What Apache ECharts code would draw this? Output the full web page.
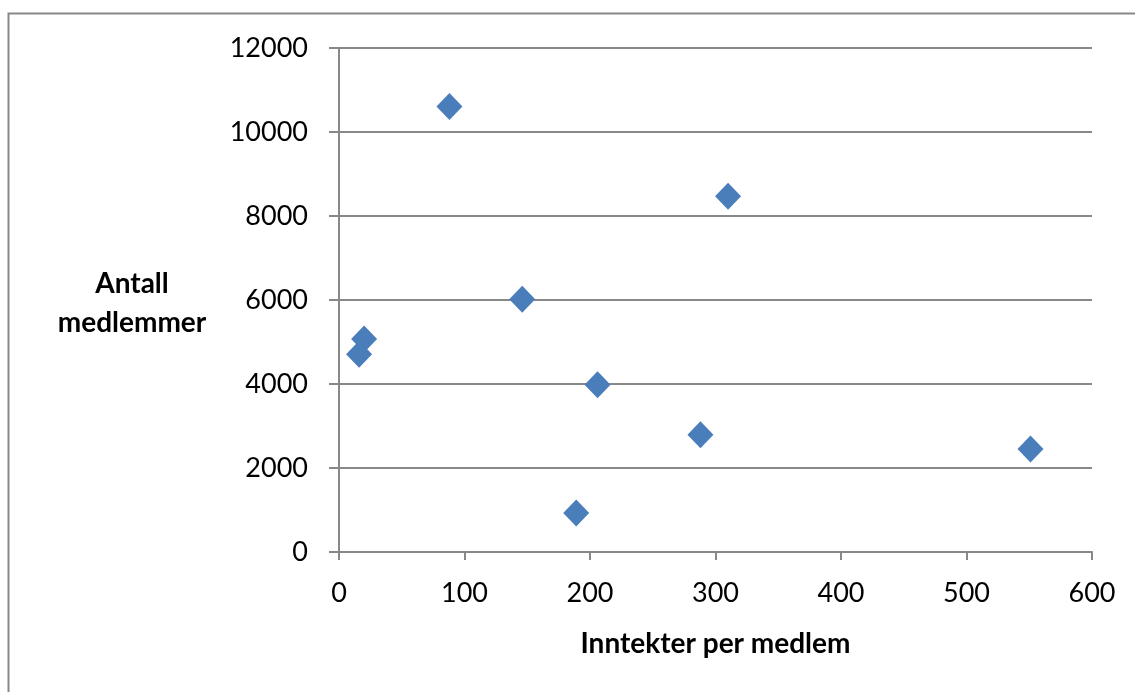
<!DOCTYPE html>
<html><head><meta charset="utf-8">
<script src="https://cdn.jsdelivr.net/npm/echarts@6/dist/echarts.min.js"></script>
<style>html,body{margin:0;padding:0;background:#fff}#c{width:1135px;height:692px}</style>
</head><body><div id="c"></div>
<script>
const incomePerMember = [16, 20, 88, 146, 206, 189, 288, 310, 551];
const memberCount = [4710, 5070, 10610, 6020, 3980, 930, 2790, 8470, 2450];
const xTicks = [0, 100, 200, 300, 400, 500, 600];
const yTicks = [0, 2000, 4000, 6000, 8000, 10000, 12000];
const xTitle = 'Inntekter per medlem';
const yTitle = 'Antall\nmedlemmer';

const data = incomePerMember.map((x, i) => [x, memberCount[i]]);
const chart = echarts.init(document.getElementById('c'), null, {renderer: 'canvas'});
const font = 'Lato, "Open Sans", sans-serif';
chart.setOption({
  animation: false,
  grid: {left: 339, right: 43, top: 48, bottom: 140},
  graphic: [
    {type: 'rect', shape: {x: 8.5, y: 13.5, width: 1200, height: 800}, style: {fill: null, stroke: '#888', lineWidth: 2}, silent: true},
    {type: 'text', x: 132, y: 264, style: {text: yTitle, font: 'bold 28px ' + font, fill: '#000', align: 'center', verticalAlign: 'top', lineHeight: 39}}
  ],
  xAxis: {
    type: 'value', min: xTicks[0], max: xTicks[xTicks.length - 1], interval: 100,
    axisLine: {lineStyle: {color: '#888', width: 2}},
    axisTick: {show: true, length: 8, lineStyle: {color: '#888', width: 2}},
    splitLine: {show: false},
    axisLabel: {fontSize: 27, color: '#000', fontFamily: font, margin: 28, formatter: v => String(v)},
    name: xTitle, nameLocation: 'middle', nameGap: 78,
    nameTextStyle: {fontSize: 28, fontWeight: 'bold', color: '#000', fontFamily: font}
  },
  yAxis: {
    type: 'value', min: yTicks[0], max: yTicks[yTicks.length - 1], interval: 2000,
    axisLine: {show: true, lineStyle: {color: '#888', width: 2}},
    axisTick: {show: true, length: 10, lineStyle: {color: '#888', width: 2}},
    splitLine: {show: true, lineStyle: {color: '#888', width: 2}},
    axisLabel: {fontSize: 27, color: '#000', fontFamily: font, margin: 31, formatter: v => String(v)}
  },
  series: [{
    type: 'scatter', data: data, symbol: 'diamond', symbolSize: [26, 27],
    itemStyle: {color: '#4a7ebb', opacity: 1, borderWidth: 0}
  }]
});
</script></body></html>
